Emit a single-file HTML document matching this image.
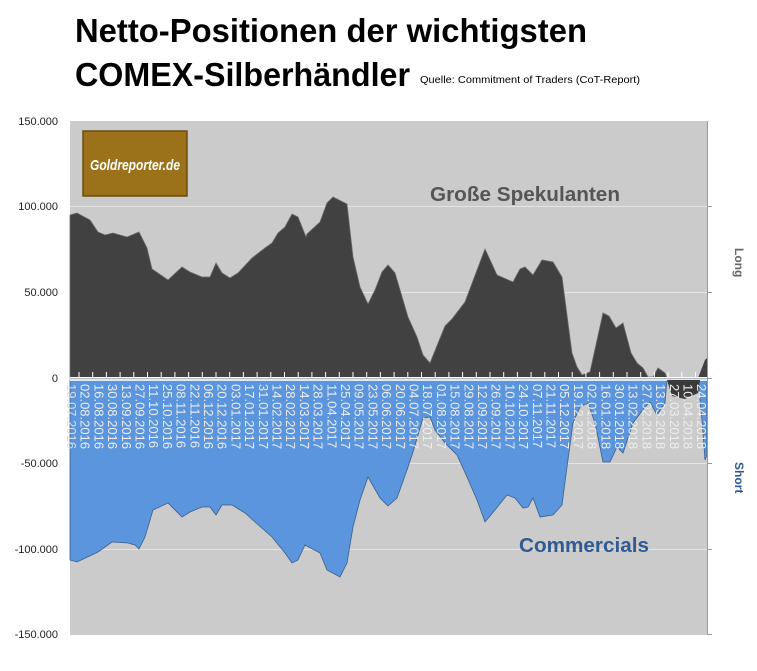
<!DOCTYPE html>
<html><head><meta charset="utf-8"><style>
html,body{margin:0;padding:0;background:#fff;}
svg{display:block;}
</style></head><body>
<svg width="757" height="671" xmlns="http://www.w3.org/2000/svg" font-family="Liberation Sans, sans-serif">
<rect width="757" height="671" fill="#fff"/>
<text x="75" y="42" font-size="33" font-weight="bold" textLength="512" lengthAdjust="spacingAndGlyphs">Netto-Positionen der wichtigsten</text>
<text x="75" y="86" font-size="33" font-weight="bold" textLength="335" lengthAdjust="spacingAndGlyphs">COMEX-Silberhändler</text>
<text x="420" y="83" font-size="10.5" textLength="220" lengthAdjust="spacingAndGlyphs">Quelle: Commitment of Traders (CoT-Report)</text>
<rect x="70" y="121" width="637" height="514" fill="#cbcbcb"/>
<g stroke="#e4e4e4" stroke-width="1">
<line x1="70" y1="206.5" x2="707" y2="206.5"/><line x1="70" y1="292.5" x2="707" y2="292.5"/>
<line x1="70" y1="463.5" x2="707" y2="463.5"/><line x1="70" y1="549.5" x2="707" y2="549.5"/>
</g>
<polygon fill="#5a95de" stroke="#3a5f8a" stroke-width="0.8" points="70,380 70,560 77,562 98,552 112,542 128,543 135,545 139,549 145,537 153,510 168,503 182,517 190,512 202,507 210,507 216,515 222,505 232,505 245,513 255,522 272,537 285,553 292,563 298,560 305,545 320,553 327,570 340,577 347,563 353,527 360,500 368,477 380,498 388,506 397,498 407,470 413,452 423,418 430,417 435,430 445,443 457,455 467,477 477,500 485,522 495,510 507,495 515,498 523,508 528,507 533,498 540,517 553,515 562,505 567,467 573,423 580,407 588,403 595,423 603,462 610,462 617,447 623,453 633,423 645,407 650,402 657,415 665,403 667,380 698,380 702,420 705,460 707,455 707,380"/>
<rect x="70" y="378" width="637" height="3" fill="#dfe9f5"/>
<polygon fill="#414141" stroke="#6a6a6a" stroke-width="0.8" points="70,378 70,215 77,213 90,220 98,232 105,235 113,233 127,237 139,232 147,248 152,269 168,280 182,267 190,272 202,277 210,277 216,263 222,273 230,278 238,273 252,258 265,248 272,243 278,233 285,227 292,214 298,217 306,237 307,234 320,222 327,203 333,197 347,204 353,257 360,287 368,304 375,290 382,272 388,265 395,273 408,317 417,337 423,355 430,363 445,326 452,319 465,302 485,249 497,275 513,282 520,269 525,267 533,275 542,260 553,262 562,277 572,353 577,367 582,375 590,372 603,313 609,316 616,328 623,323 631,353 637,363 643,368 648,377 653,377 658,368 665,373 667,378 707,378"/>
<polygon fill="#3a3a3a" points="667,380 672,396 685,399 698,393 700,380"/>
<polygon fill="#414141" points="698,378 705,360 707,358 707,378"/>
<g stroke="#fff" stroke-width="1">
<line x1="70" y1="377.5" x2="707" y2="377.5"/>
</g>
<g stroke="#fff" stroke-width="1" id="ticks"></g>
<g font-size="13" fill="#eeeeee" id="xl"></g>
<line x1="707.5" y1="121" x2="707.5" y2="635" stroke="#999"/>
<g stroke="#999"><line x1="707" y1="206.5" x2="712" y2="206.5"/><line x1="707" y1="292.5" x2="712" y2="292.5"/><line x1="707" y1="378.5" x2="712" y2="378.5"/><line x1="707" y1="463.5" x2="712" y2="463.5"/><line x1="707" y1="549.5" x2="712" y2="549.5"/><line x1="707" y1="634.5" x2="712" y2="634.5"/></g>
<g font-size="11" text-anchor="end" fill="#222">
<text x="58" y="125">150.000</text><text x="58" y="210">100.000</text><text x="58" y="296">50.000</text><text x="58" y="382">0</text><text x="58" y="467">-50.000</text><text x="58" y="553">-100.000</text><text x="58" y="638">-150.000</text>
</g>
<text transform="translate(735,248) rotate(90)" font-size="12" font-weight="bold" fill="#666">Long</text>
<text transform="translate(735,462) rotate(90)" font-size="12" font-weight="bold" fill="#2f5a93">Short</text>
<rect x="83" y="131" width="104" height="65" fill="#9b7219"/>
<rect x="83" y="131" width="104" height="65" fill="none" stroke="#6b4e0e" stroke-width="1.5"/>
<text x="90" y="170" font-size="15" font-style="italic" font-weight="bold" fill="#fff" textLength="90" lengthAdjust="spacingAndGlyphs">Goldreporter.de</text>
<text x="430" y="201" font-size="20" font-weight="bold" fill="#555" textLength="190" lengthAdjust="spacingAndGlyphs">Große Spekulanten</text>
<text x="519" y="552" font-size="20" font-weight="bold" fill="#2f5a93" textLength="130" lengthAdjust="spacingAndGlyphs">Commercials</text>
</svg>
<script>
var labels=["19.07.2016","02.08.2016","16.08.2016","30.08.2016","13.09.2016","27.09.2016","11.10.2016","25.10.2016","08.11.2016","22.11.2016","06.12.2016","20.12.2016","03.01.2017","17.01.2017","31.01.2017","14.02.2017","28.02.2017","14.03.2017","28.03.2017","11.04.2017","25.04.2017","09.05.2017","23.05.2017","06.06.2017","20.06.2017","04.07.2017","18.07.2017","01.08.2017","15.08.2017","29.08.2017","12.09.2017","26.09.2017","10.10.2017","24.10.2017","07.11.2017","21.11.2017","05.12.2017","19.12.2017","02.01.2018","16.01.2018","30.01.2018","13.02.2018","27.02.2018","13.03.2018","27.03.2018","10.04.2018","24.04.2018"];
var ns="http://www.w3.org/2000/svg",g=document.getElementById("xl"),t=document.getElementById("ticks");
for(var i=0;i<labels.length;i++){var x=72+i*13.7;
var e=document.createElementNS(ns,"text");e.setAttribute("transform","translate("+(x-5)+",384) rotate(90)");e.textContent=labels[i];
if(i==0)e.setAttribute("fill","#dddddd");g.appendChild(e);
var l=document.createElementNS(ns,"line");l.setAttribute("x1",x+7);l.setAttribute("x2",x+7);l.setAttribute("y1",372);l.setAttribute("y2",378);t.appendChild(l);}
</script>
</body></html>
